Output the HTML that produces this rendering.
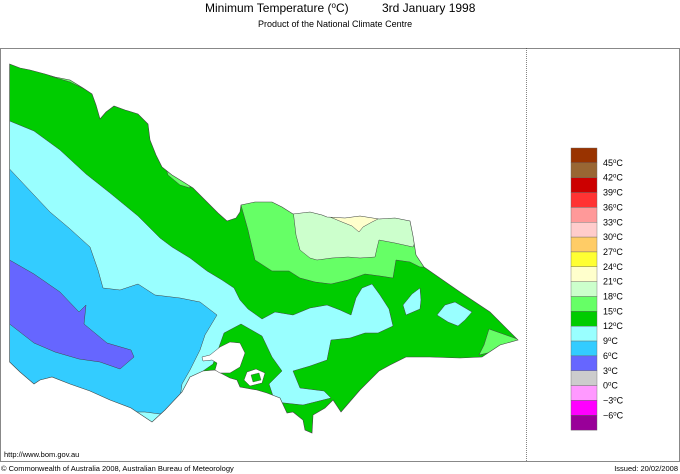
<!DOCTYPE html>
<html><head><meta charset="utf-8"><style>
html,body{margin:0;padding:0;background:#fff;}
svg{display:block;font-family:"Liberation Sans",sans-serif;}
</style></head><body>
<svg width="680" height="474" viewBox="0 0 680 474">
<defs><clipPath id="vic"><path id="vicp" d="M9.6,64 L20,68 L30,70 L45,74 L55,77 L70,80 L83,88 L92,94 L96,105 L100,119 L106,112 L114,106 L125,110 L138,114 L148,124 L150,140 L156,155 L162,167 L172,175 L185,183 L193,188 L200,195 L207,202 L218,213 L227,221 L236,218 L240,212 L241,205 L255,202 L272,202 L282,207 L293,214 L310,212 L322,215 L327,217 L345,218 L360,216 L379,219 L395,218 L410,221 L413,236 L416,255 L424,267 L460,292 L490,312 L518,340 L500,345 L482,357 L460,358 L430,357 L406,357 L390,365 L379,371 L360,390 L341,412 L333,400 L325,408 L313,415 L312,433 L305,430 L303,420 L293,412 L287,413 L280,398 L267,393 L257,390 L240,387 L237,380 L230,378 L215,370 L203,371 L190,377 L182,392 L165,410 L152,422 L140,414 L131,408 L110,400 L90,391 L70,384 L52,377 L40,380 L34,384 L20,372 L9.6,362 Z"/></clipPath></defs>
<text x="205" y="12" font-size="12">Minimum Temperature (<tspan font-size="8" dy="-4">o</tspan><tspan dy="4">C)</tspan></text>
<text x="382" y="12" font-size="12">3rd January 1998</text>
<text x="258" y="27" font-size="9">Product of the National Climate Centre</text>
<rect x="0.5" y="48.5" width="679" height="413" fill="none" stroke="#888"/>
<line x1="526.5" y1="48" x2="526.5" y2="462" stroke="#333" stroke-width="0.6" stroke-dasharray="1,1"/>
<g clip-path="url(#vic)" stroke="#444" stroke-width="0.5">
<rect x="0" y="48" width="526" height="414" fill="#00cc00" stroke="none"/>
<path fill="#99ffff" d="M0,115 L9.6,121 L34,131 L60,150 L86,174 L110,193 L138,216 L160,238 L172,247 L190,258 L207,271 L222,280 L234,288 L240,300 L248,309 L262,319 L275,312 L293,315 L310,308 L327,305 L340,310 L351,315 L356,298 L362,288 L372,284 L380,295 L389,309 L393,326 L378,333 L365,333 L350,338 L331,340 L327,360 L310,366 L293,371 L300,388 L324,391 L331,398 L303,405 L275,402 L269,384 L282,371 L272,357 L262,336 L241,324 L224,333 L213,364 L203,371 L190,400 L160,430 L0,430 Z"/>
<path fill="#99ffff" d="M403,305 L412,294 L420,288 L421,300 L420,309 L406,315 Z"/>
<path fill="#99ffff" d="M437,315 L445,305 L455,302 L472,312 L465,320 L458,326 L448,322 Z"/>
<path fill="#33ccff" d="M0,165 L9.6,169 L34,195 L50,212 L69,228 L90,247 L98,270 L103,288 L120,290 L138,284 L155,295 L180,298 L200,302 L217,315 L205,335 L200,350 L190,370 L182,384 L179,405 L160,414 L145,412 L0,412 Z"/>
<path fill="#6666ff" d="M0,258 L9.6,260 L34,274 L60,292 L79,312 L86,305 L84,324 L107,343 L131,350 L134,357 L120,369 L100,362 L79,359 L55,352 L34,343 L9.6,324 L0,322 Z"/>
<path fill="#66ff66" d="M241,205 L248,230 L255,260 L272,271 L289,271 L300,278 L315,282 L331,284 L348,280 L365,274 L380,276 L393,278 L396,260 L410,262 L420,267 L430,267 L430,200 L241,200 Z"/>
<path fill="#66ff66" d="M46,72 L55,70 L70,72 L80,75 L85,85 L91,92 L70,82 L50,76 Z"/>
<path fill="#66ff66" d="M165,165 L175,168 L189,180 L190,188 L180,185 L168,175 Z"/>
<path fill="#66ff66" d="M489,329 L484,345 L479,355 L500,350 L520,340 Z"/>
<path fill="#ccffcc" d="M293,210 L296,235 L300,250 L310,258 L317,260 L332,258 L348,257 L360,258 L375,257 L377,248 L379,240 L395,243 L413,247 L420,230 L410,210 Z"/>
<path fill="#ffffcc" d="M330,217 L342,222 L352,226 L359,232 L363,227 L372,222 L378,219 L376,214 L330,214 Z"/>
</g>
<use href="#vicp" fill="none" stroke="#444" stroke-width="0.6"/>
<path fill="#fff" stroke="#444" stroke-width="0.5" d="M202,357 L210,355 L220,347 L230,342 L240,343 L245,353 L240,367 L230,373 L220,373 L215,370 L217,363 L212,360 L203,361 Z"/>
<path fill="#fff" stroke="#444" stroke-width="0.5" d="M247,372 L256,369 L265,373 L262,383 L250,386 L244,380 Z"/>
<path fill="#00cc00" stroke="#444" stroke-width="0.4" d="M251,375 L259,373 L261,380 L253,382 Z"/>
<g id="legend"></g>
<text x="4" y="457" font-size="7.5">http://www.bom.gov.au</text>
<text x="1" y="471" font-size="7.5">© Commonwealth of Australia 2008, Australian Bureau of Meteorology</text>
<text x="678" y="471" font-size="7.5" text-anchor="end">Issued: 20/02/2008</text>
</svg>
<script>
const legendColors = ["#993300","#996633","#cc0000","#ff3333","#ff9999","#ffcccc","#ffcc66","#ffff33","#ffffcc","#ccffcc","#66ff66","#00cc00","#99ffff","#33ccff","#6666ff","#cccccc","#ff99ff","#ff00ff","#990099"];
const legendLabels = ["45","42","39","36","33","30","27","24","21","18","15","12","9","6","3","0","-3","-6"];
const NS="http://www.w3.org/2000/svg";
const lg=document.getElementById('legend');
const top0=148, h=14.85;
legendColors.forEach((c,i)=>{
  const r=document.createElementNS(NS,'rect');
  r.setAttribute('x',571);r.setAttribute('y',top0+i*h);r.setAttribute('width',26);r.setAttribute('height',h);
  r.setAttribute('fill',c);r.setAttribute('stroke','#666');r.setAttribute('stroke-width','0.4');
  
  
  lg.appendChild(r);
});
legendLabels.forEach((l,i)=>{
  const t=document.createElementNS(NS,'text');
  const yy=top0+(i+1)*h+3;
  t.setAttribute('x',l.length>2?600:603);t.setAttribute('y',yy);t.setAttribute('font-size','9');
  t.innerHTML=l.replace('-','\u2212')+'<tspan font-size="6" dy="-3">o</tspan><tspan dy="3">C</tspan>';
  
  
  lg.appendChild(t);
});
</script>
</body></html>
